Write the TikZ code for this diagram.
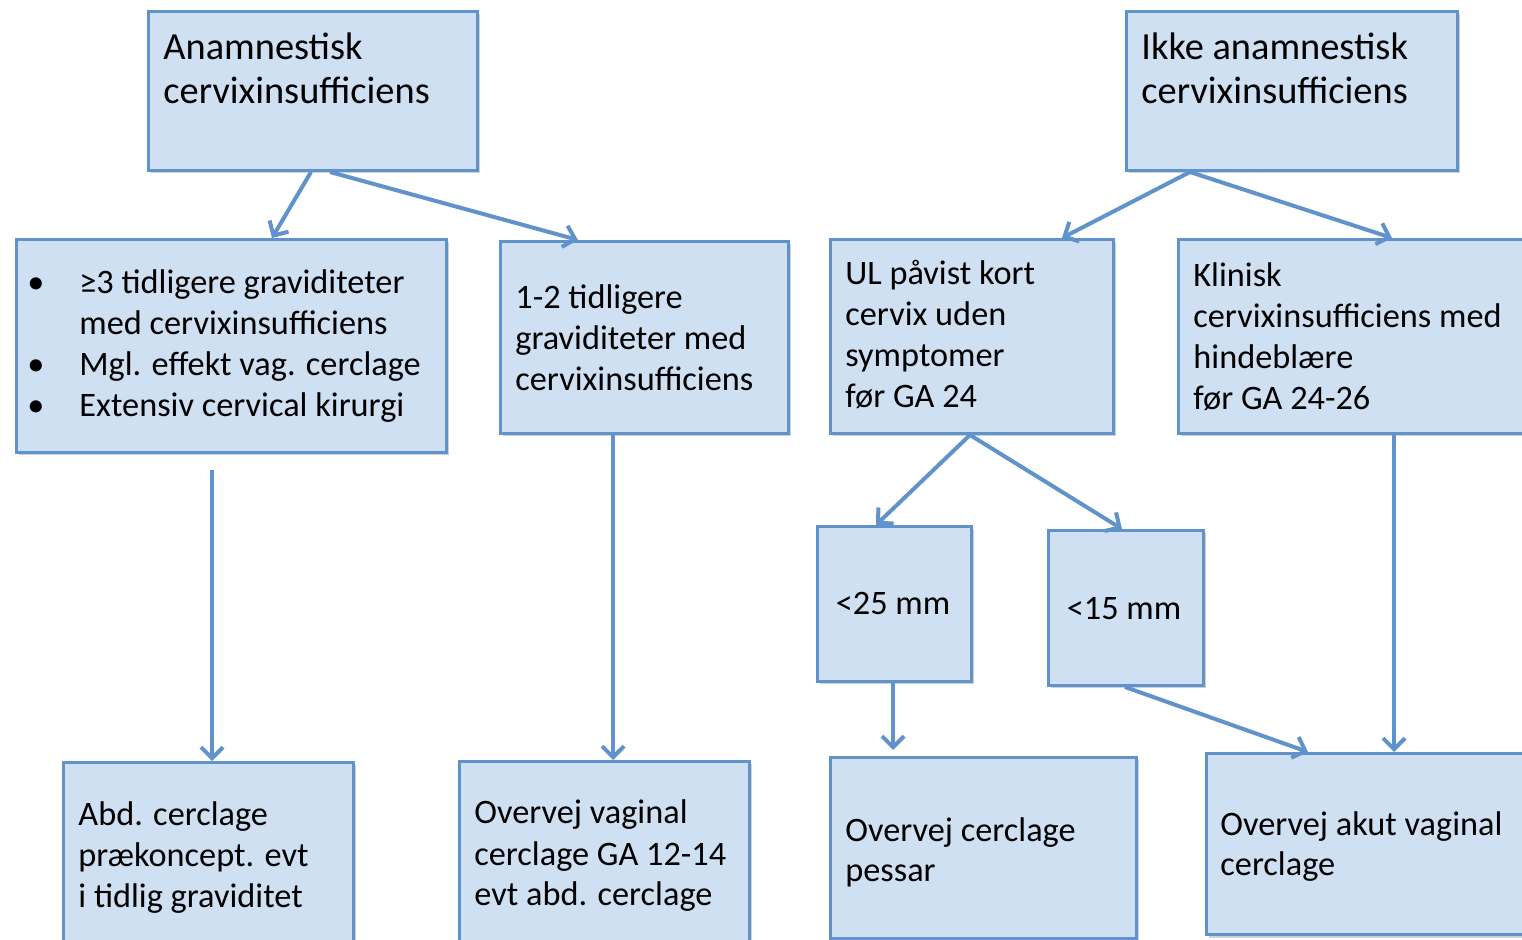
\documentclass[tikz,border=0pt]{standalone}
\usepackage{fontspec}
\setmainfont{Carlito}
\usetikzlibrary{arrows.meta,shadows}

\definecolor{boxfill}{RGB}{208,224,243}
\definecolor{boxline}{RGB}{96,146,204}

\tikzstyle{block} = [rectangle, draw=boxline, fill=boxfill, line width=1.5pt,
    anchor=north west, inner sep=0pt,
    drop shadow={shadow xshift=1pt, shadow yshift=-1.5pt, opacity=0.3, fill=black!60}]
\tikzstyle{txt} = [anchor=base west, align=left, inner sep=0pt,
    font=\fontsize{17.15pt}{20.5pt}\selectfont]
\tikzstyle{head} = [txt, font=\fontsize{19.2pt}{22pt}\selectfont]
\tikzstyle{conn} = [draw=boxline, line width=2pt, -{Straight Barb[length=5.5pt,width=11pt]}]

\newcommand{\bul}{\llap{\textbullet\hspace{17.5pt}}}

\begin{document}
\begin{tikzpicture}[x=0.5pt, y=-0.5pt]
    \useasboundingbox (0,0) rectangle (1522,940);

    % Place nodes
    \node [block, minimum width=164.5pt, minimum height=79.5pt] (anam) at (147,10) {};
    \node [block, minimum width=165.5pt, minimum height=79.5pt] (ikke) at (1125,10) {};
    \node [block, minimum width=215pt, minimum height=106.5pt] (bul) at (15,238) {};
    \node [block, minimum width=144pt, minimum height=96pt] (one2) at (499,240) {};
    \node [block, minimum width=141.5pt, minimum height=97pt] (ul) at (829,238) {};
    \node [block, minimum width=185pt, minimum height=97pt] (klin) at (1177,238) {};
    \node [block, minimum width=77pt, minimum height=77.5pt] (lt25) at (816,525) {};
    \node [block, minimum width=77.5pt, minimum height=77.5pt] (lt15) at (1047,529) {};
    \node [block, minimum width=145pt, minimum height=100pt] (abd) at (62,761) {};
    \node [block, minimum width=145pt, minimum height=100pt] (vag) at (458,760) {};
    \node [block, minimum width=153pt, minimum height=90.5pt] (pessar) at (829,756) {};
    \node [block, minimum width=167.5pt, minimum height=90.5pt] (akut) at (1205,752) {};

    % Texts (placed at the baseline of their last line)
    \node [head] (anamtext) at (163,104) {Anamnestisk\\cervixinsufficiens};
    \node [head] (ikketext) at (1141,104) {Ikke anamnestisk\\cervixinsufficiens};
    \node [txt] (bultext) at (79,417) {\bul ≥3 tidligere graviditeter\\med cervixinsufficiens\\\bul Mgl. effekt vag. cerclage\\\bul Extensiv cervical kirurgi};
    \node [txt] (one2text) at (515,391) {1-2 tidligere\\graviditeter med\\cervixinsufficiens};
    \node [txt] (ultext) at (845,408) {UL påvist kort\\cervix uden\\symptomer\\før GA 24};
    \node [txt] (klintext) at (1193,410) {Klinisk\\cervixinsufficiens med\\hindeblære\\før GA 24-26};
    \node [txt, anchor=base] (lt25text) at (893,615) {<25 mm};
    \node [txt, anchor=base] (lt15text) at (1124,620) {<15 mm};
    \node [txt] (abdtext) at (78,907) {Abd. cerclage\\prækoncept. evt\\i tidlig graviditet};
    \node [txt] (vagtext) at (474,906) {Overvej vaginal\\cerclage GA 12-14\\evt abd. cerclage};
    \node [txt] (pessartext) at (845,882) {Overvej cerclage\\pessar};
    \node [txt] (akuttext) at (1220,876) {Overvej akut vaginal\\cerclage};

    % Draw arrows
    \draw [conn] ([xshift=82pt]anam.south west) -- ([xshift=128.5pt]bul.north west);
    \draw [conn] ([xshift=91.5pt]anam.south west) -- ([xshift=39.5pt]one2.north west);
    \draw [conn] ([xshift=32.5pt]ikke.south west) -- ([xshift=116.5pt]ul.north west);
    \draw [conn] ([xshift=32.5pt]ikke.south west) -- ([xshift=107.5pt]klin.north west);
    \draw [conn] ([xshift=70.5pt]ul.south west) -- ([xshift=30pt]lt25.north west);
    \draw [conn] ([xshift=70.5pt]ul.south west) -- ([xshift=37.5pt]lt15.north west);
    \draw [conn] ([xshift=98.5pt,yshift=-8pt]bul.south west) -- ([xshift=75pt]abd.north west);
    \draw [conn] ([xshift=57pt]one2.south west) -- ([xshift=77.5pt]vag.north west);
    \draw [conn] ([xshift=38.5pt]lt25.south west) -- ([xshift=32pt,yshift=3pt]pessar.north west);
    \draw [conn] ([xshift=39pt]lt15.south west) -- ([xshift=51.5pt]akut.north west);
    \draw [conn] ([xshift=108.5pt]klin.south west) -- ([xshift=94.5pt]akut.north west);

\end{tikzpicture}
\end{document}
